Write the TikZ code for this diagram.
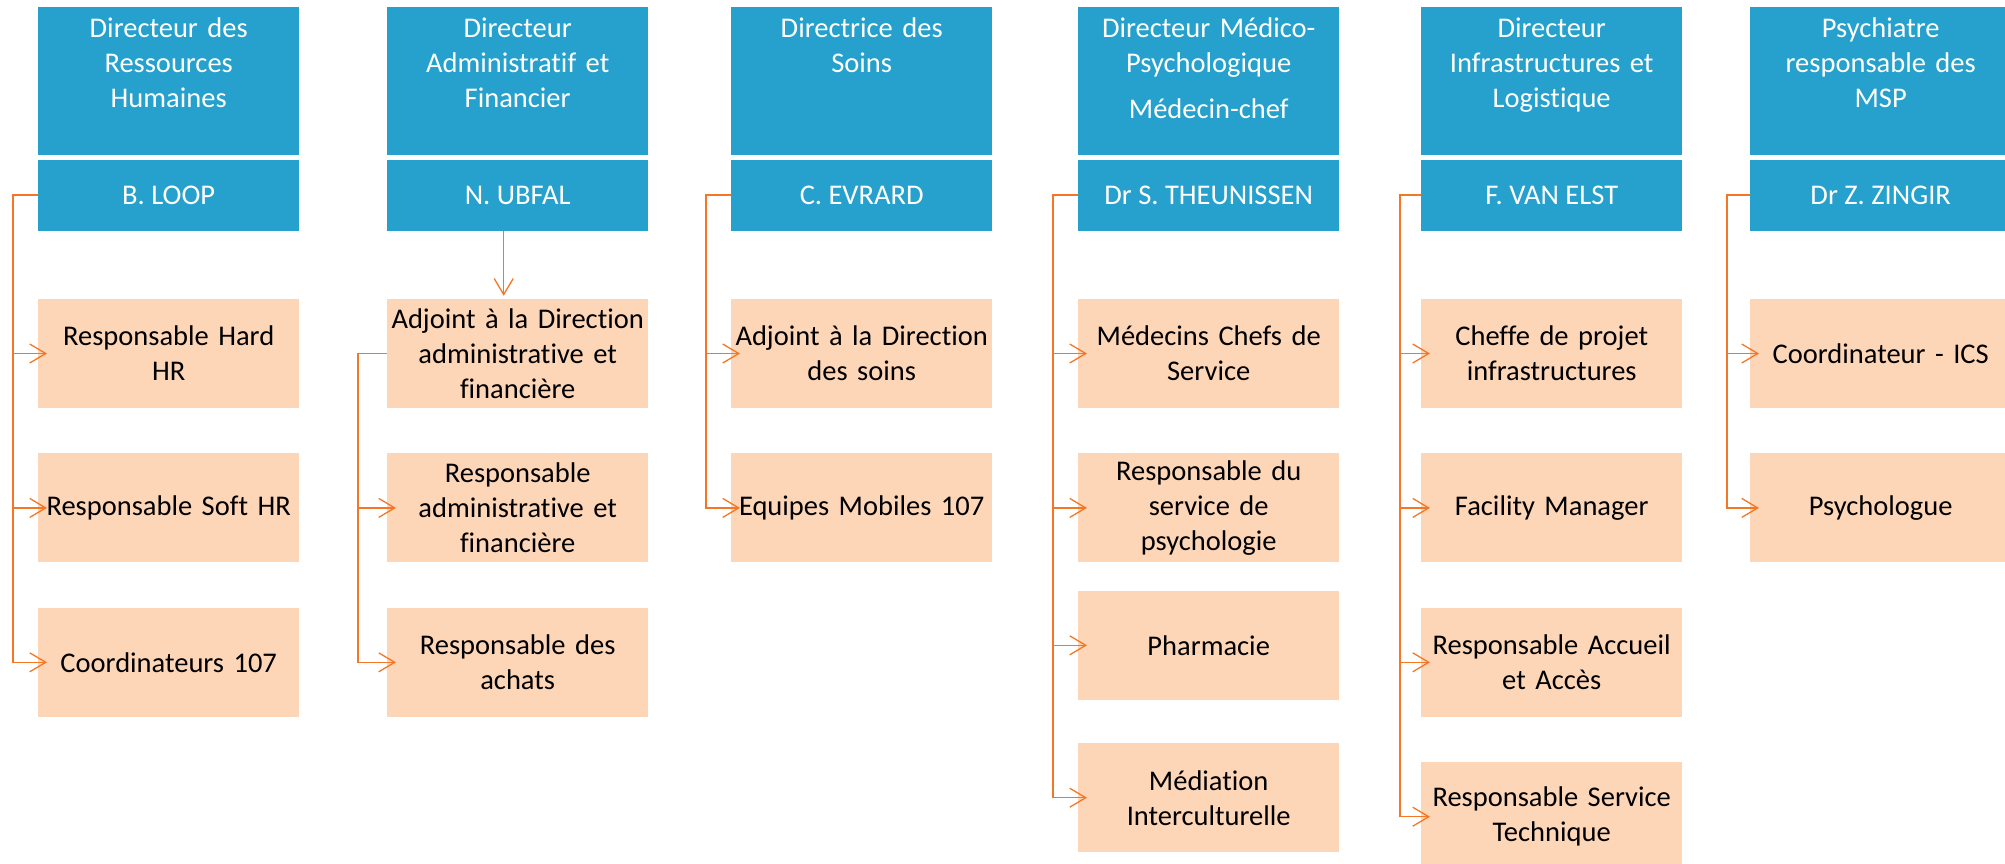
\documentclass[tikz,border=0pt]{standalone}
\usepackage{fontspec}
\setmainfont{Carlito}[Ligatures=NoCommon]
\usetikzlibrary{positioning,arrows.meta}
\definecolor{chefbleu}{RGB}{38,161,205}
\definecolor{servpeche}{RGB}{253,213,183}
\definecolor{lienorange}{RGB}{245,118,36}
\tikzset{
	x=1pt, y=-1pt, % one unit is one pixel of the chart, y runs downwards
	node distance=45pt, % gap between two service boxes
	titre/.style={fill=chefbleu, text=white, anchor=north west, text width=253pt, align=center, inner xsep=4pt, inner ysep=0pt, text height=30pt, text depth=118pt}, % top of a column
	nom/.style={fill=chefbleu, text=white, minimum width=261pt, minimum height=71pt, inner sep=0pt}, % name under the title
	service/.style={fill=servpeche, text=black, text width=253pt, align=center, inner xsep=4pt, inner ysep=0pt, minimum height=109pt},
	lien/.style={draw=lienorange, line width=1.3pt, -{Straight Barb[length=16pt,width=19pt]}, shorten >=-9pt}, % orange connector
}
\begin{document}
\begin{tikzpicture}[font=\fontsize{28.5}{35}\selectfont]
	\useasboundingbox (0,0) rectangle (2005,863);

	% titles and names
	\node[titre] (dRH) at (38,7) {Directeur des\\Ressources\\Humaines};
	\node[titre] (dDAF) at (387,7) {Directeur\\Administratif et\\Financier};
	\node[titre] (dSoins) at (731,7) {Directrice des\\Soins};
	\node[titre] (dMed) at (1078,7) {Directeur Médico-\\Psychologique\\[11pt]Médecin-chef};
	\node[titre] (dInfra) at (1421,7) {Directeur\\Infrastructures et\\Logistique};
	\node[titre] (dMSP) at (1750,7) {Psychiatre\\responsable des\\MSP};

	\node[nom,below=4pt of dRH] (nRH) {B. LOOP};
	\node[nom,below=4pt of dDAF] (nDAF) {N. UBFAL};
	\node[nom,below=4pt of dSoins] (nSoins) {C. EVRARD};
	\node[nom,below=4pt of dMed] (nMed) {Dr S. THEUNISSEN};
	\node[nom,below=4pt of dInfra] (nInfra) {F. VAN ELST};
	\node[nom,below=4pt of dMSP] (nMSP) {Dr Z. ZINGIR};

	% services
	\node[service,below=68pt of nRH] (rh1) {Responsable Hard\\HR};
	\node[service,below=of rh1] (rh2) {Responsable Soft HR};
	\node[service,below=of rh2] (rh3) {Coordinateurs 107};

	\node[service,below=68pt of nDAF] (daf1) {Adjoint à la Direction\\administrative et\\financière};
	\node[service,below=of daf1] (daf2) {Responsable\\administrative et\\financière};
	\node[service,below=of daf2] (daf3) {Responsable des\\achats};

	\node[service,below=68pt of nSoins] (so1) {Adjoint à la Direction\\des soins};
	\node[service,below=of so1] (so2) {Equipes Mobiles 107};

	\node[service,below=68pt of nMed] (med1) {Médecins Chefs de\\Service};
	\node[service,below=of med1] (med2) {Responsable du\\service de\\psychologie};
	\node[service,below=28pt of med2] (med3) {Pharmacie};
	\node[service,below=43pt of med3] (med4) {Médiation\\Interculturelle};

	\node[service,below=68pt of nInfra] (inf1) {Cheffe de projet\\infrastructures};
	\node[service,below=of inf1] (inf2) {Facility Manager};
	\node[service,below=of inf2] (inf3) {Responsable Accueil\\et Accès};
	\node[service,below=of inf3] (inf4) {Responsable Service\\Technique};

	\node[service,below=68pt of nMSP] (msp1) {Coordinateur - ICS};
	\node[service,below=of msp1] (msp2) {Psychologue};

	% connectors
	\foreach \s in {rh1,rh2,rh3}
		\draw[lien] (nRH.west) -- ++(-25,0) |- (\s.west);
	\draw[lien,shorten >=3pt] ([xshift=-14pt]nDAF.south) -- ([xshift=-14pt]daf1.north);
	\foreach \s in {daf2,daf3}
		\draw[lien] (daf1.west) -- ++(-29,0) |- (\s.west);
	\foreach \s in {so1,so2}
		\draw[lien] (nSoins.west) -- ++(-25,0) |- (\s.west);
	\foreach \s in {med1,med2,med3,med4}
		\draw[lien] (nMed.west) -- ++(-25,0) |- (\s.west);
	\foreach \s in {inf1,inf2,inf3,inf4}
		\draw[lien] (nInfra.west) -- ++(-21,0) |- (\s.west);
	\foreach \s in {msp1,msp2}
		\draw[lien] (nMSP.west) -- ++(-23,0) |- (\s.west);
\end{tikzpicture}
\end{document}
